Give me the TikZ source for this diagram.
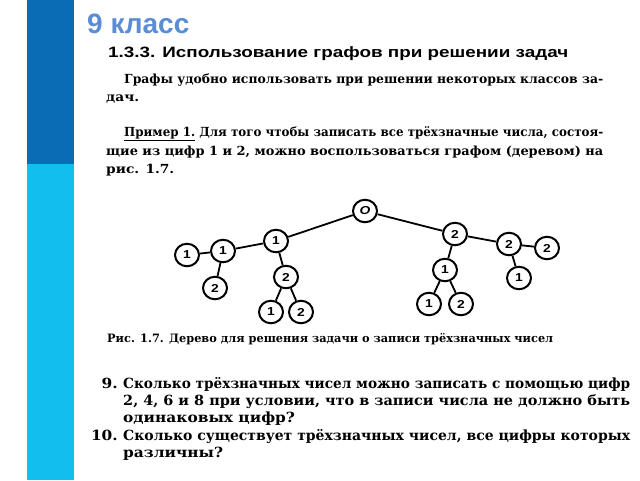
\documentclass[tikz,border=0pt]{standalone}
\usepackage{fontspec}
\usepackage{graphicx}
\usetikzlibrary{shapes.geometric}
\setmainfont{DejaVu Serif}
\setsansfont{Liberation Sans}
\newfontfamily\bookserif[FakeStretch=1.1]{DejaVu Serif}
\newfontfamily\booksans[FakeStretch=1.2]{Liberation Sans}
\definecolor{darkband}{RGB}{10,108,180}
\definecolor{lightband}{RGB}{18,190,238}
\definecolor{titleblue}{RGB}{91,141,213}
\newcommand{\fitw}[2]{\resizebox{#1}{\height}{#2}}
\tikzset{
  tn/.style={ellipse, draw, line width=2pt, minimum width=24pt, minimum height=22.5pt, inner sep=0pt,
    font=\booksans\bfseries\fontsize{11.5}{12}\selectfont},
  edge/.style={line width=1.8pt},
  body/.style={anchor=base west, inner sep=0pt, font=\bookserif\bfseries\fontsize{12.5}{15}\selectfont},
  capt/.style={anchor=base west, inner sep=0pt, font=\bookserif\bfseries\fontsize{11.5}{13}\selectfont},
  item/.style={anchor=base west, inner sep=0pt, font=\bookserif\bfseries\fontsize{14}{17}\selectfont},
  num/.style={anchor=base east, inner sep=0pt, font=\bookserif\bfseries\fontsize{14}{17}\selectfont}
}
\begin{document}
\begin{tikzpicture}[x=1pt,y=-1pt]
\useasboundingbox (0,0) rectangle (640,480);
\fill[white] (0,0) rectangle (640,480);
\fill[darkband] (27,0) rectangle (74,164);
\fill[lightband] (27,164) rectangle (74,480);
\node[anchor=base west, inner sep=0pt, text=titleblue, font=\sffamily\bfseries\fontsize{28}{30}\selectfont] (title) at (87,33) {9 класс};
\node[anchor=base west, inner sep=0pt, font=\booksans\bfseries\fontsize{15}{17}\selectfont] (head) at (108,57) {\fitw{460pt}{1.3.3. Использование графов при решении задач}};
\node[body] (p1) at (124,83) {\fitw{479pt}{Графы удобно использовать при решении некоторых классов за-}};
\node[body] (p2) at (106,101) {дач.};
\node[body] (p3) at (124,136) {\fitw{479pt}{\underline{Пример 1.} Для того чтобы записать все трёхзначные числа, состоя-}};
\node[body] (p4) at (106,155) {\fitw{497pt}{щие из цифр 1 и 2, можно воспользоваться графом (деревом) на}};
\node[body] (p5) at (106,173) {рис. 1.7.};
% tree
\node[tn] (r) at (365,211) {\itshape O};
\node[tn] (a) at (276,241) {1};
\node[tn] (a1) at (223,251) {1};
\node[tn] (a11) at (187,255) {1};
\node[tn] (a12) at (215,288) {2};
\node[tn] (a2) at (286,277) {2};
\node[tn] (a21) at (271,312) {1};
\node[tn] (a22) at (301,312) {2};
\node[tn] (b) at (455,234) {2};
\node[tn] (b2) at (509,244) {2};
\node[tn] (b22) at (547,248) {2};
\node[tn] (b21) at (519,278) {1};
\node[tn] (b1) at (445,270) {1};
\node[tn] (b11) at (429,304) {1};
\node[tn] (b12) at (461,304) {2};
\draw[edge] (r) -- (a);
\draw[edge] (r) -- (b);
\draw[edge] (a) -- (a1);
\draw[edge] (a1) -- (a11);
\draw[edge] (a1) -- (a12);
\draw[edge] (a) -- (a2);
\draw[edge] (a2) -- (a21);
\draw[edge] (a2) -- (a22);
\draw[edge] (b) -- (b2);
\draw[edge] (b2) -- (b22);
\draw[edge] (b2) -- (b21);
\draw[edge] (b) -- (b1);
\draw[edge] (b1) -- (b11);
\draw[edge] (b1) -- (b12);
\node[capt] (cap) at (107,342) {\fitw{446pt}{Рис. 1.7. Дерево для решения задачи о записи трёхзначных чисел}};
\node[num] (n9) at (118,388) {9.};
\node[item] (q1) at (123,388) {\fitw{507pt}{Сколько трёхзначных чисел можно записать с помощью цифр}};
\node[item] (q2) at (123,405) {\fitw{507pt}{2, 4, 6 и 8 при условии, что в записи числа не должно быть}};
\node[item] (q3) at (123,422) {одинаковых цифр?};
\node[num] (n10) at (118,440) {10.};
\node[item] (q4) at (123,440) {\fitw{507pt}{Сколько существует трёхзначных чисел, все цифры которых}};
\node[item] (q5) at (123,457) {различны?};
\end{tikzpicture}
\end{document}
